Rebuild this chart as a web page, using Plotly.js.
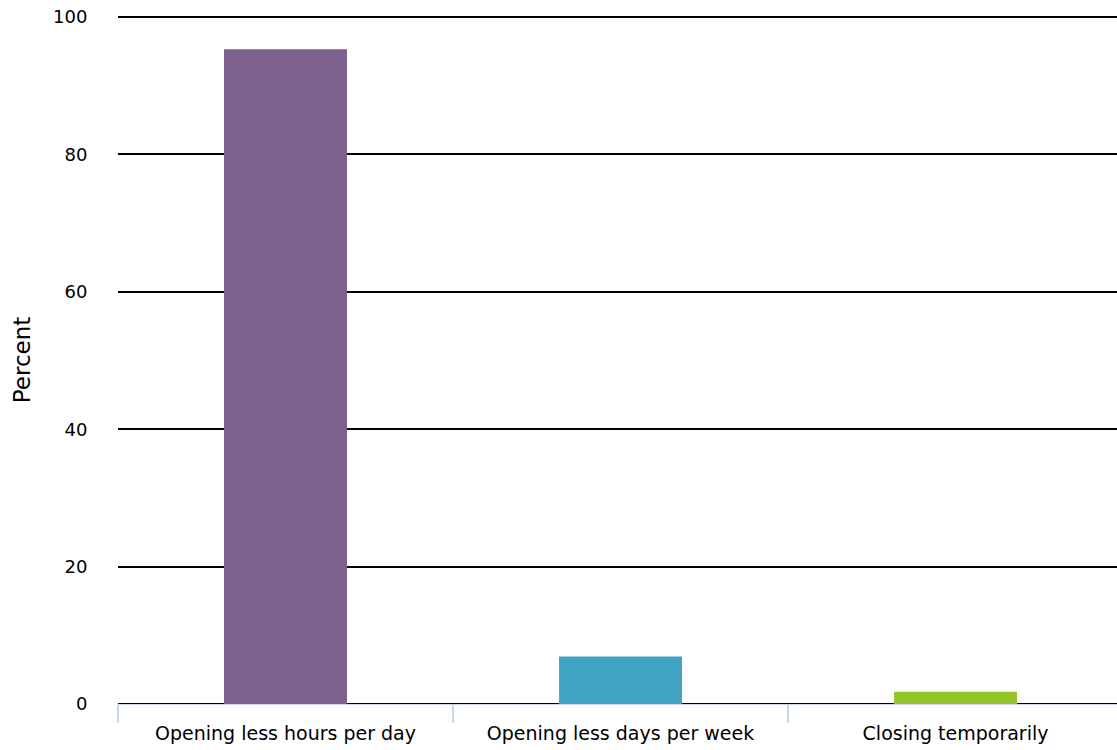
<!DOCTYPE html>
<html>
<head>
<meta charset="utf-8">
<script src="https://cdn.plot.ly/plotly-3.0.1.min.js"></script>
<style>html,body{margin:0;padding:0;background:#fff;}#chart{width:1117px;height:750px;}</style>
</head>
<body>
<div id="chart"></div>
<script>
const categories = ["Opening less hours per day", "Opening less days per week", "Closing temporarily"];
const values = [95.3, 6.9, 1.8];
const colors = ["#7d618e", "#41a3c2", "#93c52b"];
const yTicks = [0, 20, 40, 60, 80, 100];

const trace = {
  type: "bar",
  x: categories,
  y: values,
  marker: {color: colors, line: {width: 0}},
  hoverinfo: "x+y"
};

const layout = {
  width: 1117,
  height: 750,
  margin: {l: 118, r: 0, t: 16, b: 46},
  paper_bgcolor: "#ffffff",
  plot_bgcolor: "#ffffff",
  font: {family: "DejaVu Sans, Liberation Sans, sans-serif", color: "#000000", size: 19},
  bargap: 0.633,
  showlegend: false,
  xaxis: {
    type: "category",
    range: [-0.5, 2.482],
    tickson: "boundaries",
    ticks: "outside",
    ticklen: 18,
    tickwidth: 2,
    tickcolor: "#ccd6eb",
    showline: true,
    linecolor: "#ccd6eb",
    linewidth: 1,
    showgrid: false,
    ticklabelstandoff: 12,
    tickfont: {size: 19, color: "#000000"}
  },
  yaxis: {
    range: [0, 100.15],
    tickvals: yTicks,
    ticktext: yTicks.map(String),
    showgrid: true,
    gridcolor: "#000000",
    gridwidth: 2,
    zeroline: true,
    zerolinecolor: "#000000",
    zerolinewidth: 2,
    ticks: "outside",
    ticklen: 26,
    tickcolor: "rgba(0,0,0,0)",
    tickfont: {size: 18, color: "#000000"},
    title: {text: "Percent", font: {size: 23, color: "#000000"}, standoff: 15}
  }
};

Plotly.newPlot("chart", [trace], layout, {displayModeBar: false, staticPlot: true});
</script>
</body>
</html>
